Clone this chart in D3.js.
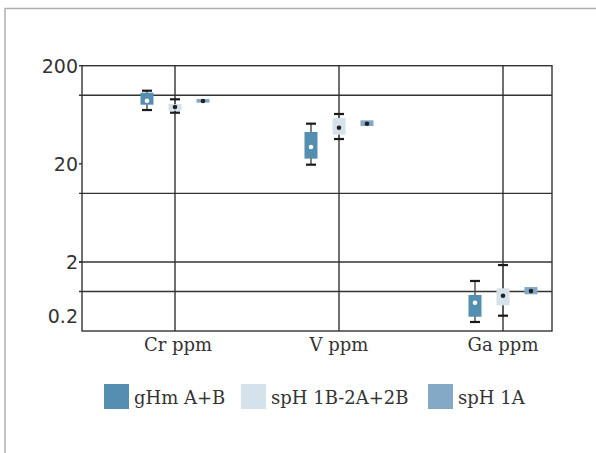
<!DOCTYPE html>
<html>
<head>
<meta charset="utf-8">
<script src="https://cdn.jsdelivr.net/npm/d3@7"></script>
<style>
  html, body { margin: 0; padding: 0; background: #fff; }
  svg { display: block; }
</style>
</head>
<body>
<svg id="chart" width="596" height="453"></svg>
<script>
// ---- data ----
const categories = ["Cr ppm", "V ppm", "Ga ppm"];
const series = ["gHm A+B", "spH 1B-2A+2B", "spH 1A"];
const seriesColors = ["#548eb0", "#d5e2ec", "#84a9c6"];
const dotColors = ["#ffffff", "#222222", "#222222"];
// per series: [min, q1, median, q3, max] for each category
const gHmStats = [
  [70.7, 80.1, 88.0, 106.1, 111.2],
  [19.6, 22.6, 29.7, 42.2, 51.3],
  [0.157, 0.216, 0.506, 0.809, 1.28]
];
const spH1BStats = [
  [66.4, 69.5, 75.9, 81.4, 90.9],
  [35.8, 39.6, 46.7, 58.6, 64.4],
  [0.23, 0.432, 0.775, 1.078, 1.86]
];
const spH1AStats = [
  [84.0, 84.0, 87.4, 91.5, 91.5],
  [48.6, 48.6, 51.3, 55.5, 55.5],
  [0.844, 0.844, 1.01, 1.11, 1.11]
];
const hasWhiskers = [true, true, false];
const yTickLabels = [200, 20, 2, 0.2];
const yTickMarks = [200, 20, 2];
const gridValues = [100, 10, 2, 1];

// ---- layout ----
const svg = d3.select("#chart");
const plot = { left: 82, right: 552, top: 65.7, bottom: 331 };

svg.append("rect")
  .attr("x", 5).attr("y", 8.5).attr("width", 800).attr("height", 800)
  .attr("fill", "none").attr("stroke", "#b0b0b0").attr("stroke-width", 1.5);

const y = d3.scaleLog().domain([0.2, 1, 200]).range([316, 291.5, plot.top]);
const x = d3.scalePoint().domain(categories).range([175, 503]);
const xs = d3.scaleBand().domain(series).range([-42, 42]);

const gridColor = "#333";

// horizontal gridlines (with short outer tick)
svg.append("g").selectAll("line").data(gridValues).join("line")
  .attr("x1", plot.left - 3).attr("x2", plot.right)
  .attr("y1", d => y(d)).attr("y2", d => y(d))
  .attr("stroke", gridColor).attr("stroke-width", 1.4);

// vertical gridlines at category centers
svg.append("g").selectAll("line").data(categories).join("line")
  .attr("x1", d => x(d)).attr("x2", d => x(d))
  .attr("y1", plot.top).attr("y2", plot.bottom)
  .attr("stroke", gridColor).attr("stroke-width", 1.4);

// plot border
svg.append("rect")
  .attr("x", plot.left).attr("y", plot.top)
  .attr("width", plot.right - plot.left).attr("height", plot.bottom - plot.top)
  .attr("fill", "none").attr("stroke", gridColor).attr("stroke-width", 1.4);

// y axis ticks & labels
svg.append("g").selectAll("line").data(yTickMarks).join("line")
  .attr("x1", plot.left - 3).attr("x2", plot.left)
  .attr("y1", d => y(d)).attr("y2", d => y(d))
  .attr("stroke", gridColor).attr("stroke-width", 1.4);
svg.append("g").selectAll("text").data(yTickLabels).join("text")
  .attr("x", 78).attr("y", d => y(d)).attr("dy", "0.36em")
  .attr("text-anchor", "end")
  .attr("font-family", "DejaVu Sans").attr("font-size", 19).attr("fill", "#333")
  .text(d => d);

// x labels
svg.append("g").selectAll("text").data(categories).join("text")
  .attr("x", d => x(d) + (d === "Cr ppm" ? 3 : 0)).attr("y", 351)
  .attr("text-anchor", "middle")
  .attr("font-family", "DejaVu Serif").attr("font-size", 18).attr("fill", "#333")
  .text(d => d);

// boxes (values mapped through the same scale)
const yv = d3.scaleLog().domain([0.2, 1, 200]).range([318, 291.5, plot.top]);
const allStats = [gHmStats, spH1BStats, spH1AStats];
const boxW = 13, capW = 9;
series.forEach((s, si) => {
  const g = svg.append("g");
  allStats[si].forEach((st, ci) => {
    const cx = x(categories[ci]) + xs(s) + xs.bandwidth() / 2;
    const [mn, q1, md, q3, mx] = st;
    if (hasWhiskers[si]) {
      g.append("line").attr("x1", cx).attr("x2", cx).attr("y1", yv(mx)).attr("y2", yv(mn))
        .attr("stroke", "#555").attr("stroke-width", 1.5);
      [mn, mx].forEach(v => g.append("line")
        .attr("x1", cx - capW / 2 - 0.5).attr("x2", cx + capW / 2 + 0.5)
        .attr("y1", yv(v)).attr("y2", yv(v))
        .attr("stroke", "#1a1a1a").attr("stroke-width", 2.2));
    }
    g.append("rect").attr("x", cx - boxW / 2).attr("width", boxW)
      .attr("y", yv(q3)).attr("height", yv(q1) - yv(q3))
      .attr("fill", seriesColors[si]);
    g.append("circle").attr("cx", cx).attr("cy", yv(md)).attr("r", 2.3)
      .attr("fill", dotColors[si]);
  });
});

// legend
const legendX = [104, 241, 428];
const lg = svg.append("g");
series.forEach((s, i) => {
  lg.append("rect").attr("x", legendX[i]).attr("y", 384).attr("width", 25).attr("height", 25)
    .attr("fill", seriesColors[i]);
  lg.append("text").attr("x", legendX[i] + 30).attr("y", 404)
    .attr("font-family", "DejaVu Serif").attr("font-size", 18).attr("fill", "#333")
    .text(s);
});
</script>
</body>
</html>
